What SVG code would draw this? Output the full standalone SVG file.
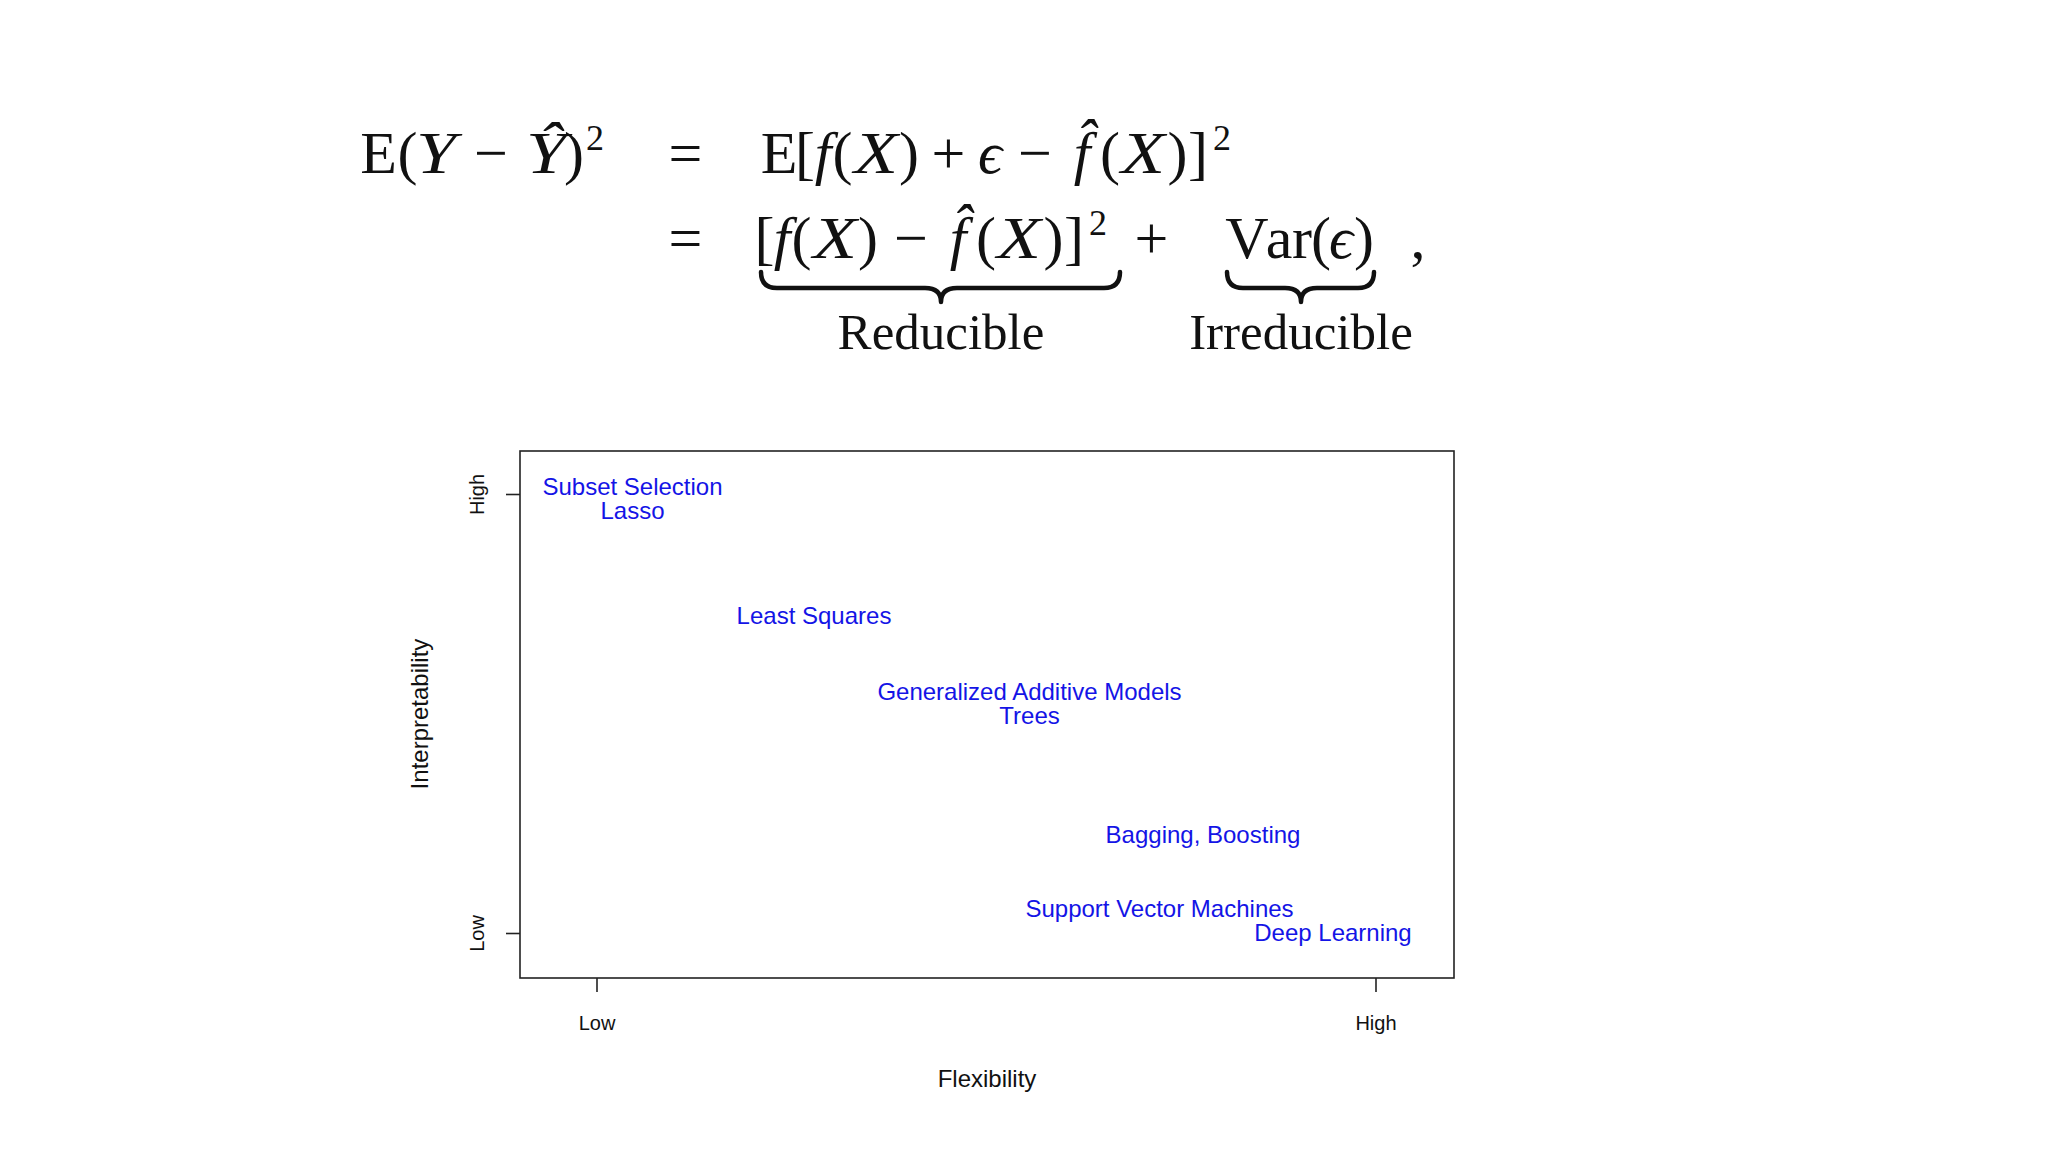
<svg xmlns="http://www.w3.org/2000/svg" width="2048" height="1152" viewBox="0 0 2048 1152">
<style>
.m{font-family:"Liberation Serif","DejaVu Serif",serif;font-size:60px;fill:#111;text-anchor:middle}
.i{font-style:italic}
.sup{font-size:36px}
.lab{font-family:"Liberation Serif","DejaVu Serif",serif;font-size:51px;fill:#111;text-anchor:middle}
.brace{fill:none;stroke:#111;stroke-width:4.5;stroke-linecap:round;stroke-linejoin:round}
.ax{font-family:"Liberation Sans",Arial,sans-serif;fill:#111;text-anchor:middle}
.tick{font-size:20px}
.title{font-size:24px}
.pt{font-family:"Liberation Sans",Arial,sans-serif;font-size:24px;fill:#1414e6;text-anchor:middle}
.line{stroke:#222;stroke-width:1.6;fill:none}
</style>
<rect width="2048" height="1152" fill="#ffffff"/>

<g id="equation">
  <g id="line1">
    <text class="m" x="378.5" y="173">E</text>
    <text class="m" x="407.5" y="173">(</text>
    <text class="m i" x="436" y="173" textLength="40" lengthAdjust="spacingAndGlyphs">Y</text>
    <text class="m" x="491" y="173">−</text>
    <text class="m i" x="546" y="173" textLength="40" lengthAdjust="spacingAndGlyphs">Ŷ</text>
    <text class="m" x="574" y="173">)</text>
    <text class="m sup" x="595" y="150">2</text>
    <text class="m" x="685.5" y="173">=</text>
    <text class="m" x="779" y="173">E</text>
    <text class="m" x="805" y="173">[</text>
    <text class="m i" x="823" y="173">f</text>
    <text class="m" x="842.5" y="173">(</text>
    <text class="m i" x="876" y="173" textLength="44" lengthAdjust="spacingAndGlyphs">X</text>
    <text class="m" x="909" y="173">)</text>
    <text class="m" x="948.5" y="173">+</text>
    <text class="m i" x="990" y="173">ϵ</text>
    <text class="m" x="1035" y="173">−</text>
    <text class="m i" x="1082" y="173">f̂</text>
    <text class="m" x="1110" y="173">(</text>
    <text class="m i" x="1143" y="173" textLength="44" lengthAdjust="spacingAndGlyphs">X</text>
    <text class="m" x="1177.5" y="173">)</text>
    <text class="m" x="1198" y="173">]</text>
    <text class="m sup" x="1222" y="150">2</text>
  </g>
  <g id="line2">
    <text class="m" x="685.5" y="258">=</text>
    <text class="m" x="764.5" y="258">[</text>
    <text class="m i" x="782" y="258">f</text>
    <text class="m" x="801.5" y="258">(</text>
    <text class="m i" x="835" y="258" textLength="44" lengthAdjust="spacingAndGlyphs">X</text>
    <text class="m" x="868" y="258">)</text>
    <text class="m" x="911" y="258">−</text>
    <text class="m i" x="958" y="258">f̂</text>
    <text class="m" x="986" y="258">(</text>
    <text class="m i" x="1019" y="258" textLength="44" lengthAdjust="spacingAndGlyphs">X</text>
    <text class="m" x="1053.5" y="258">)</text>
    <text class="m" x="1074" y="258">]</text>
    <text class="m sup" x="1098" y="235">2</text>
    <text class="m" x="1151.5" y="258">+</text>
    <text class="m" x="1247" y="258">V</text>
    <text class="m" x="1279" y="258">a</text>
    <text class="m" x="1302" y="258">r</text>
    <text class="m" x="1321" y="258">(</text>
    <text class="m i" x="1341" y="258">ϵ</text>
    <text class="m" x="1364" y="258">)</text>
    <text class="m" x="1418" y="258">,</text>
  </g>
  <g id="braces">
    <path class="brace" d="M761,272 Q761,288 777,288 L925,288 Q941,288 941,302 Q941,288 957,288 L1104,288 Q1120,288 1120,272"/>
    <path class="brace" d="M1227,272 Q1227,288 1243,288 L1285,288 Q1301,288 1301,302 Q1301,288 1317,288 L1358,288 Q1374,288 1374,272"/>
  </g>
  <text id="reducible" class="lab" x="941" y="349">Reducible</text>
  <text id="irreducible" class="lab" x="1301" y="349">Irreducible</text>
</g>

<g id="plot">
  <rect id="plot-frame" class="line" x="520" y="451" width="934" height="527"/>
  <g id="axes">
    <line class="line" x1="506" y1="494.5" x2="520" y2="494.5"/>
    <line class="line" x1="506" y1="933.5" x2="520" y2="933.5"/>
    <line class="line" x1="597" y1="978" x2="597" y2="992"/>
    <line class="line" x1="1376" y1="978" x2="1376" y2="992"/>
    <text class="ax tick" transform="translate(484,494.5) rotate(-90)">High</text>
    <text class="ax tick" transform="translate(484,933.5) rotate(-90)">Low</text>
    <text class="ax tick" x="597" y="1030">Low</text>
    <text class="ax tick" x="1376" y="1030">High</text>
    <text class="ax title" x="987" y="1087">Flexibility</text>
    <text class="ax title" transform="translate(428,714) rotate(-90)">Interpretability</text>
  </g>
  <g id="methods">
    <text class="pt" x="632.5" y="495">Subset Selection</text>
    <text class="pt" x="632.5" y="519">Lasso</text>
    <text class="pt" x="814" y="624">Least Squares</text>
    <text class="pt" x="1029.5" y="700">Generalized Additive Models</text>
    <text class="pt" x="1029.5" y="724">Trees</text>
    <text class="pt" x="1203" y="843">Bagging, Boosting</text>
    <text class="pt" x="1159.5" y="917">Support Vector Machines</text>
    <text class="pt" x="1333" y="941">Deep Learning</text>
  </g>
</g>
</svg>
